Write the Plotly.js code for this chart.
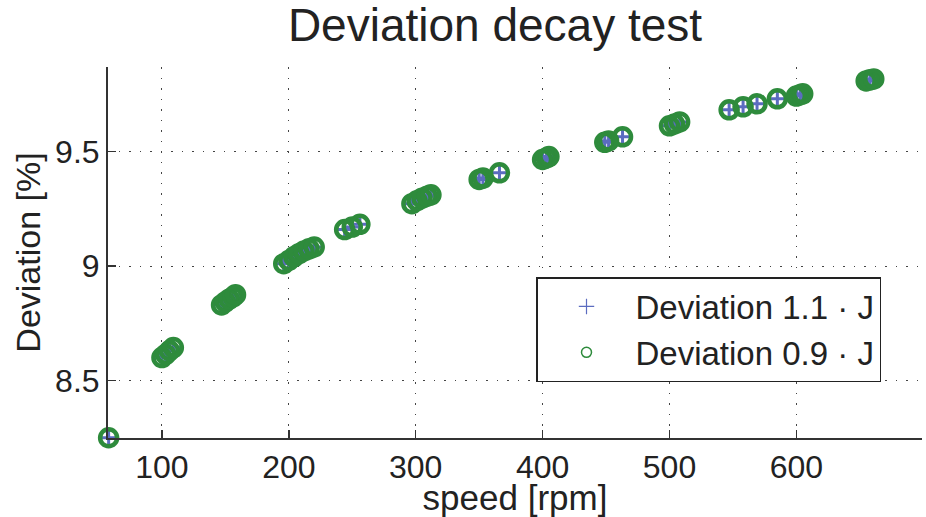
<!DOCTYPE html>
<html>
<head>
<meta charset="utf-8">
<script src="https://cdn.plot.ly/plotly-3.0.1.min.js"></script>
<style>html,body{margin:0;padding:0;background:#fff;}#chart{width:926px;height:517px;}</style>
</head>
<body>
<div id="chart"></div>
<script>
// speed [rpm]
const speed = [58, 100,103,106,109, 147,150,153,156,158, 196,200,204,208,212,216,220,
  244,250,256, 297,301,305,309,312, 350,353,366, 400,403,405, 449,452,463,
  500,504,508, 547,558,569,585, 600,603,605, 655,658,661];
// Deviation 1.1·J [%]
const dev11 = [8.25, 8.600,8.615,8.630,8.645, 8.830,8.842,8.855,8.866,8.875,
  9.010,9.025,9.040,9.054,9.066,9.075,9.083, 9.159,9.170,9.182,
  9.272,9.285,9.295,9.305,9.311, 9.378,9.384,9.407, 9.465,9.472,9.478,
  9.540,9.546,9.564, 9.612,9.620,9.629, 9.682,9.695,9.708,9.730,
  9.742,9.748,9.752, 9.808,9.813,9.817];
// Deviation 0.9·J [%]
const dev09 = [8.25, 8.600,8.614,8.630,8.644, 8.830,8.843,8.855,8.865,8.875,
  9.010,9.024,9.040,9.054,9.066,9.075,9.083, 9.159,9.170,9.182,
  9.272,9.285,9.296,9.305,9.311, 9.378,9.384,9.407, 9.465,9.472,9.478,
  9.540,9.546,9.564, 9.612,9.620,9.629, 9.682,9.695,9.708,9.730,
  9.742,9.748,9.752, 9.808,9.813,9.817];
const xTicks = [100, 200, 300, 400, 500, 600];
const yTicks = [8.5, 9, 9.5];
const names = ['Deviation 1.1 · J', 'Deviation 0.9 · J'];

const blue = '#5b6cc0';
const green = '#2e8b3c';
const font = 'Liberation Sans, Arial, Helvetica, sans-serif';

const traces = [
  {x: speed, y: dev11, mode: 'markers', type: 'scatter', showlegend: false, cliponaxis: false,
   marker: {symbol: 'cross-thin-open', size: 14, color: blue, line: {color: blue, width: 3}}},
  {x: speed, y: dev09, mode: 'markers', type: 'scatter', showlegend: false, cliponaxis: false,
   marker: {symbol: 'circle-open', size: 17, color: green, line: {color: green, width: 4.5}}},
  {x: [null], y: [null], mode: 'markers', type: 'scatter', name: names[0],
   marker: {symbol: 'cross-thin-open', size: 11, color: blue, line: {color: blue, width: 1.2}}},
  {x: [null], y: [null], mode: 'markers', type: 'scatter', name: names[1],
   marker: {symbol: 'circle-open', size: 10, color: green, line: {color: green, width: 1.5}}}
];

const layout = {
  width: 926, height: 517,
  margin: {l: 108, r: 4, t: 67, b: 79},
  paper_bgcolor: '#fff', plot_bgcolor: '#fff',
  font: {family: font, color: '#222', size: 32},
  title: {text: 'Deviation decay test', x: 495/926, xanchor: 'center', xref: 'container',
          y: 1 - 25/517, yanchor: 'middle', yref: 'container', font: {size: 46, color: '#222', family: font}},
  xaxis: {
    range: [57.5, 699], tickvals: xTicks, ticktext: xTicks.map(String),
    showline: true, linecolor: '#333', linewidth: 2, mirror: false,
    ticks: 'inside', ticklen: 8, tickwidth: 1.5, tickcolor: '#333',
    showgrid: true, gridcolor: '#444', gridwidth: 1, griddash: '1.5px,9px',
    zeroline: false, tickfont: {size: 32, color: '#222'},
    title: {text: 'speed [rpm]', font: {size: 35, color: '#222'}, standoff: 3}
  },
  yaxis: {
    range: [8.249, 9.869], tickvals: yTicks, ticktext: ['8.5', '9', '9.5'],
    showline: true, linecolor: '#333', linewidth: 2, mirror: false,
    ticks: 'inside', ticklen: 8, tickwidth: 1.5, tickcolor: '#333',
    showgrid: true, gridcolor: '#444', gridwidth: 1, griddash: '1.5px,9px',
    zeroline: false, tickfont: {size: 32, color: '#222'},
    title: {text: 'Deviation [%]', font: {size: 34, color: '#222'}, standoff: 4}
  },
  legend: {
    x: (536 - 108) / 814, xanchor: 'left', y: (438 - 277) / 371, yanchor: 'top',
    bgcolor: '#fff', bordercolor: '#222', borderwidth: 1.5,
    font: {size: 33, color: '#222', family: font}, itemwidth: 88
  },
  showlegend: true
};

Plotly.newPlot('chart', traces, layout, {displayModeBar: false, staticPlot: true});
</script>
</body>
</html>
